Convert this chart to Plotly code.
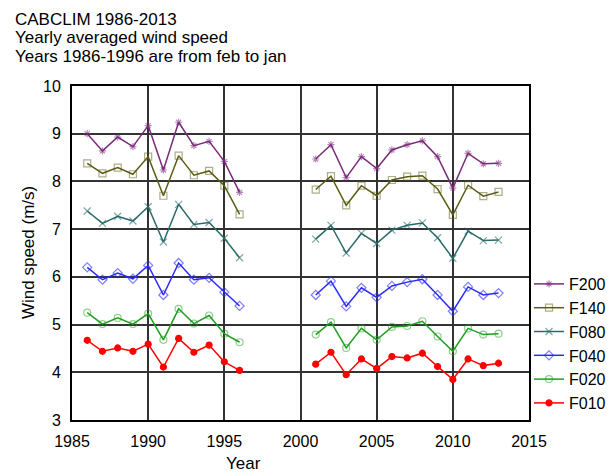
import plotly.graph_objects as go

years = list(range(1986, 2014))

# 1986-1996, gap 1997-2000 (None), 2001-2013
f200 = [9.00, 8.64, 8.93, 8.73, 9.17, 8.24, 9.24, 8.75, 8.84, 8.42, 7.77,
        None, None, None, None,
        8.47, 8.77, 8.08, 8.52, 8.27, 8.66, 8.77, 8.85, 8.52, 7.86, 8.59, 8.37, 8.38]
f140 = [8.38, 8.17, 8.29, 8.15, 8.52, 7.70, 8.54, 8.13, 8.22, 7.91, 7.31,
        None, None, None, None,
        7.83, 8.11, 7.50, 7.91, 7.70, 8.03, 8.10, 8.12, 7.84, 7.30, 7.92, 7.69, 7.78]
f080 = [7.38, 7.12, 7.27, 7.17, 7.47, 6.73, 7.52, 7.10, 7.14, 6.81, 6.40,
        None, None, None, None,
        6.79, 7.08, 6.50, 6.91, 6.70, 6.98, 7.08, 7.13, 6.82, 6.39, 6.96, 6.76, 6.77]
f040 = [6.20, 5.94, 6.08, 5.96, 6.24, 5.62, 6.29, 5.94, 5.98, 5.68, 5.39,
        None, None, None, None,
        5.62, 5.91, 5.38, 5.77, 5.57, 5.81, 5.89, 5.95, 5.62, 5.28, 5.79, 5.62, 5.66]
f020 = [5.25, 5.01, 5.14, 5.01, 5.23, 4.68, 5.33, 5.02, 5.19, 4.81, 4.63,
        None, None, None, None,
        4.79, 5.05, 4.51, 4.92, 4.68, 4.95, 4.97, 5.07, 4.75, 4.44, 4.92, 4.79, 4.81]
f010 = [4.67, 4.44, 4.51, 4.44, 4.59, 4.11, 4.71, 4.42, 4.57, 4.22, 4.04,
        None, None, None, None,
        4.17, 4.42, 3.95, 4.28, 4.08, 4.33, 4.30, 4.40, 4.12, 3.85, 4.28, 4.14, 4.19]

series_names = ["F200", "F140", "F080", "F040", "F020", "F010"]
series_values = [f200, f140, f080, f040, f020, f010]
colors = ["#7a2a7a", "#5c5c14", "#2a6a6a", "#2a2aff", "#1f9f1f", "#ff0000"]
symbols = ["asterisk-open", "square-open", "x-thin-open", "diamond-open", "circle-open", "circle"]
msizes = [6, 7, 7, 7, 7, 6]
mopac = [0.55, 0.5, 0.6, 0.6, 0.5, 1.0]

title_lines = ["CABCLIM 1986-2013", "Yearly averaged wind speed",
               "Years 1986-1996 are from feb to jan"]

FONT = "Liberation Sans, Arial, Helvetica, sans-serif"

# page body has an 8px margin; figure is sized so the page fits 615x472
W, H = 607, 464
L, T = 64, 78
PW, PH = 457, 334
OX, OY = 8, 8  # body offset

fig = go.Figure()
for name, vals, c, s, ms, mo in zip(series_names, series_values, colors, symbols, msizes, mopac):
    fig.add_trace(go.Scatter(
        x=years, y=vals, name=name, mode="lines+markers",
        line=dict(color=c, width=1.5),
        marker=dict(symbol=s, size=ms, color=c, opacity=mo,
                    line=dict(color=c, width=1.2)),
        connectgaps=False,
    ))

fig.update_layout(
    width=W, height=H,
    margin=dict(l=L, r=W - L - PW, t=T, b=H - T - PH, autoexpand=False),
    paper_bgcolor="white", plot_bgcolor="white",
    font=dict(family=FONT, size=16, color="black"),
    showlegend=True,
    legend=dict(x=1.0, xanchor="left", y=0.0, yanchor="bottom",
                font=dict(size=16), itemwidth=30, tracegroupgap=0,
                bgcolor="rgba(0,0,0,0)"),
    xaxis=dict(range=[1985, 2015], dtick=5, tick0=1985,
               showgrid=True, gridcolor="#333333", gridwidth=1.5,
               showline=True, linecolor="black", linewidth=2, mirror=True,
               ticks="outside", ticklen=6, tickcolor="rgba(0,0,0,0)",
               zeroline=False, tickfont=dict(size=16)),
    yaxis=dict(range=[3, 10], dtick=1, tick0=3,
               showgrid=True, gridcolor="#333333", gridwidth=1.5,
               showline=True, linecolor="black", linewidth=2, mirror=True,
               ticks="outside", ticklen=6, tickcolor="rgba(0,0,0,0)",
               zeroline=False, tickfont=dict(size=16)),
)

# convert window pixel coords to paper coords
def px(xw):
    return (xw - OX - L) / PW

def py(yw):
    return (T + PH - (yw - OY)) / PH

ys = [19.5, 38, 56.5]
for txt, ypx in zip(title_lines, ys):
    fig.add_annotation(text=txt, xref="paper", yref="paper",
                       x=px(13), y=py(ypx),
                       xanchor="left", yanchor="middle", showarrow=False,
                       font=dict(size=17))

fig.add_annotation(text="Wind speed (m/s)", xref="paper", yref="paper",
                   x=px(28), y=0.5, textangle=-90,
                   xanchor="center", yanchor="middle", showarrow=False,
                   font=dict(size=17))
fig.add_annotation(text="Year", xref="paper", yref="paper",
                   x=px(243), y=py(463),
                   xanchor="center", yanchor="middle", showarrow=False,
                   font=dict(size=17))

fig.write_html("out.html")
